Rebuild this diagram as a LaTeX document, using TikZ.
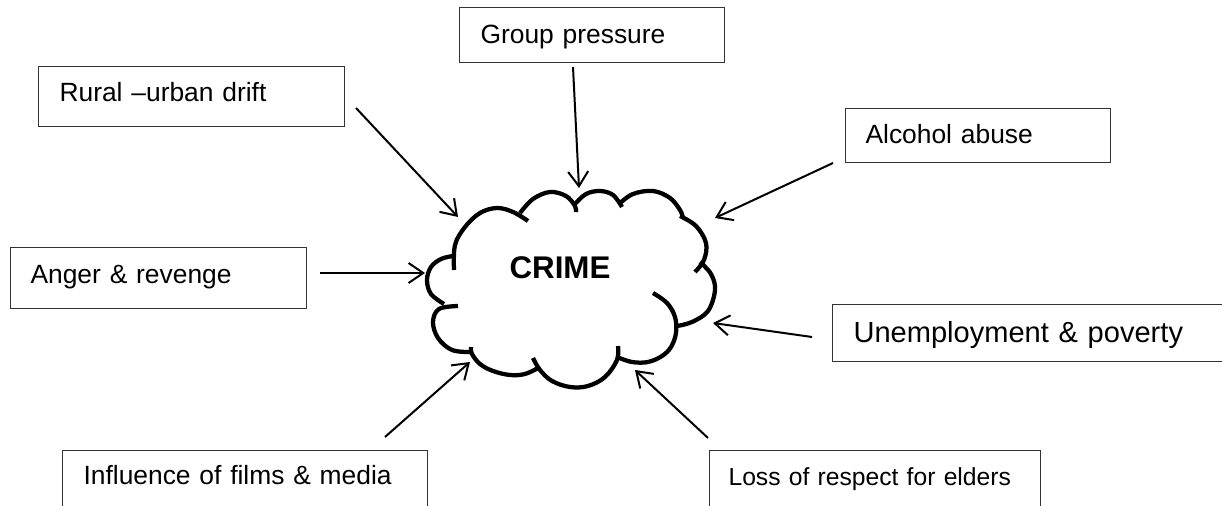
\documentclass[tikz,border=0pt]{standalone}
\usepackage{fontspec}
\setmainfont{Liberation Sans}
\usetikzlibrary{arrows.meta}
\begin{document}
\begin{tikzpicture}[x=0.75pt,y=-0.75pt,
  box/.style={draw=black!80, line width=0.8pt, anchor=north west, inner ysep=0pt,
    align=left, font=\fontsize{19.8pt}{24pt}\selectfont},
  bigbox/.style={box, font=\fontsize{21.8pt}{26pt}\selectfont},
  smallbox/.style={box, font=\fontsize{18.5pt}{22pt}\selectfont},
  arr/.style={line width=1.5pt, -{Straight Barb[length=11pt,width=15pt,line width=1.5pt]}},
  cloudline/.style={line width=3.2pt, line cap=butt, line join=round}]
\useasboundingbox (0,0) rectangle (1222,506);
\clip (0,0) rectangle (1222,506);

% boxes
\node[box, text width=167.25pt, inner xsep=15.75pt, text height=27pt, text depth=14.25pt] (group) at (459,7) {Group pressure};
\node[box, text width=198pt, inner xsep=15.75pt, text height=26.25pt, text depth=18.75pt] (rural) at (38,66) {Rural –urban drift};
\node[box, text width=168.75pt, inner xsep=15pt, text height=26.25pt, text depth=14.25pt] (alcohol) at (845,108) {Alcohol abuse};
\node[box, text width=192pt, inner xsep=15pt, text height=27pt, text depth=18.75pt] (anger) at (10,247) {Anger \& revenge};
\node[bigbox, text width=274.5pt, inner xsep=15.75pt, text height=28.5pt, text depth=14.25pt] (unemp) at (832,304) {Unemployment \& poverty};
\node[box, text width=242.25pt, inner xsep=15.75pt, text height=25.5pt, text depth=30pt] (films) at (62,450) {Influence of films \& media};
\node[smallbox, text width=219.75pt, inner xsep=14.25pt, text height=26.25pt, text depth=30pt] (elders) at (709,450) {Loss of respect for elders};

% cloud
\draw[cloudline] plot[smooth, tension=0.6] coordinates {(454,270) (455,245) (465,227) (480,213) (497,208) (513,212) (528,221)};
\draw[cloudline] plot[smooth, tension=0.6] coordinates {(520,213) (533,199) (550,192) (566,196) (575,206) (576,212)};
\draw[cloudline] plot[smooth, tension=0.6] coordinates {(575,204) (586,194) (600,191) (613,195) (622,207)};
\draw[cloudline] plot[smooth, tension=0.6] coordinates {(619,204) (633,194) (653,191) (670,198) (680,210) (683,218)};
\draw[cloudline] plot[smooth, tension=0.6] coordinates {(680,216) (696,226) (706,243) (704,260) (695,272)};
\draw[cloudline] plot[smooth, tension=0.6] coordinates {(700,262) (711,274) (715,290) (708,311) (692,322) (677,326)};
\draw[cloudline] plot[smooth, tension=0.6] coordinates {(653,293) (667,303) (675,317) (676,333) (671,347) (662,356) (648,362) (632,362) (617,357)};
\draw[cloudline] plot[smooth, tension=0.6] coordinates {(618,346) (617,360) (605,377) (588,386) (570,387) (552,381) (540,370) (533,358)};
\draw[cloudline] plot[smooth, tension=0.6] coordinates {(538,368) (525,374) (510,375) (493,371) (480,364) (472,354) (471,347)};
\draw[cloudline] plot[smooth, tension=0.6] coordinates {(471,352) (452,350) (438,338) (433,322) (439,309) (458,306)};
\draw[cloudline] plot[smooth, tension=0.6] coordinates {(444,304) (431,294) (427,280) (431,267) (441,259) (453,256)};

\node[font=\bfseries\fontsize{23.5pt}{28pt}\selectfont, inner sep=0pt] (crime) at (560,268) {CRIME};

% arrow end points
\coordinate (sg) at (573,67);   \coordinate (tg) at (579,188);
\coordinate (sr) at (356,108);  \coordinate (tr) at (458,217);
\coordinate (sa) at (833,163);  \coordinate (ta) at (715,218);
\coordinate (sn) at (320,273);  \coordinate (tn) at (425,273);
\coordinate (su) at (812,337);  \coordinate (tu) at (713,323);
\coordinate (sf) at (385,437);  \coordinate (tf) at (470,362);
\coordinate (se) at (708,438);  \coordinate (te) at (635,370);

\draw[arr] (sg) -- (tg);
\draw[arr] (sr) -- (tr);
\draw[arr] (sa) -- (ta);
\draw[arr] (sn) -- (tn);
\draw[arr] (su) -- (tu);
\draw[arr] (sf) -- (tf);
\draw[arr] (se) -- (te);
\end{tikzpicture}
\end{document}
